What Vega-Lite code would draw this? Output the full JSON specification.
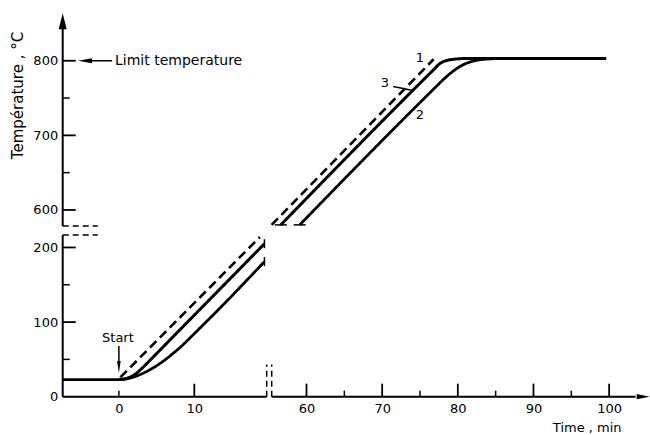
{
  "$schema": "https://vega.github.io/schema/vega-lite/v6.json",
  "width": 587.3,
  "height": 383.7,
  "autosize": {"type": "none"},
  "padding": {"left": 62.7, "top": 13, "right": 0, "bottom": 38.3},
  "background": "white",
  "config": {"view": {"stroke": null}, "font": "DejaVu Sans"},
  "datasets": {
    "axes": [
      {"t": -7.45, "T": 0, "t2": -7.45, "T2": 216.7},
      {"t": -7.45, "T": 578.5, "t2": -7.45, "T2": 856},
      {"t": -7.45, "T": 0, "t2": 19.6, "T2": 0},
      {"t": 55.4, "T": 0, "t2": 103.5, "T2": 0}
    ],
    "breaks": [
      {"t": 19.6, "T": 0, "t2": 19.6, "T2": 43},
      {"t": 55.4, "T": 0, "t2": 55.4, "T2": 43},
      {"t": -7.45, "T": 216.7, "t2": -2.8, "T2": 216.7},
      {"t": -7.45, "T": 578.5, "t2": -2.8, "T2": 578.5}
    ],
    "leaders": [
      {"t": 71.46, "T": 765.5, "t2": 74.1, "T2": 760.1},
      {"t": 0, "T": 68, "t2": 0, "T2": 46},
      {"t": -3.56, "T": 800, "t2": -0.9, "T2": 800}
    ],
    "arrows": [
      {"name": "yaxis", "t": -7.45, "T": 853},
      {"name": "xaxis", "t": 104.5, "T": 0},
      {"name": "start", "t": 0, "T": 39.8},
      {"name": "limit", "t": -4.49, "T": 800}
    ],
    "xticks": [
      {"t": 10, "T": 0, "kind": "major"},
      {"t": 60, "T": 0, "kind": "major"},
      {"t": 70, "T": 0, "kind": "major"},
      {"t": 80, "T": 0, "kind": "major"},
      {"t": 90, "T": 0, "kind": "major"},
      {"t": 100, "T": 0, "kind": "major"},
      {"t": 0, "T": 0, "kind": "minor"},
      {"t": 65, "T": 0, "kind": "minor"},
      {"t": 75, "T": 0, "kind": "minor"},
      {"t": 85, "T": 0, "kind": "minor"},
      {"t": 95, "T": 0, "kind": "minor"}
    ],
    "yticks": [
      {"t": -7.45, "T": 100, "kind": "major"},
      {"t": -7.45, "T": 200, "kind": "major"},
      {"t": -7.45, "T": 600, "kind": "major"},
      {"t": -7.45, "T": 700, "kind": "major"},
      {"t": -7.45, "T": 800, "kind": "major"},
      {"t": -7.45, "T": 50, "kind": "minor"},
      {"t": -7.45, "T": 150, "kind": "minor"},
      {"t": -7.45, "T": 650, "kind": "minor"},
      {"t": -7.45, "T": 750, "kind": "minor"}
    ],
    "ends": [
      {"t": 19.3, "T": 205, "o": "v"},
      {"t": 19.3, "T": 181, "o": "v"},
      {"t": 56.6, "T": 580, "o": "h"},
      {"t": 59.1, "T": 580, "o": "h"}
    ],
    "texts": [
      {"t": -0.13, "T": 78.7, "label": "Start", "align": "center"},
      {"t": 75.0, "T": 803.6, "label": "1", "align": "center"},
      {"t": 75.0, "T": 727.5, "label": "2", "align": "center"},
      {"t": 70.36, "T": 770, "label": "3", "align": "center"},
      {"t": -0.51, "T": 800, "label": "Limit temperature", "align": "left"}
    ],
    "curves": [
      {"curve": "1", "seg": "1a", "t": 0.2, "T": 26},
      {"curve": "1", "seg": "1a", "t": 18.7, "T": 214},
      {"curve": "1", "seg": "1b", "t": 54.9, "T": 580},
      {"curve": "1", "seg": "1b", "t": 76.8, "T": 802},
      {"curve": "3", "seg": "3a", "t": 0, "T": 23},
      {"curve": "3", "seg": "3a", "t": 1, "T": 24.5},
      {"curve": "3", "seg": "3a", "t": 2, "T": 29},
      {"curve": "3", "seg": "3a", "t": 3, "T": 37.5},
      {"curve": "3", "seg": "3a", "t": 4, "T": 47.5},
      {"curve": "3", "seg": "3a", "t": 5, "T": 57.8},
      {"curve": "3", "seg": "3a", "t": 19.3, "T": 205},
      {"curve": "3", "seg": "3b", "t": 56.6, "T": 580},
      {"curve": "3", "seg": "3b", "t": 76.9, "T": 789},
      {"curve": "3", "seg": "3b", "t": 77.6, "T": 796},
      {"curve": "3", "seg": "3b", "t": 78.4, "T": 800},
      {"curve": "3", "seg": "3b", "t": 79.5, "T": 802},
      {"curve": "3", "seg": "3b", "t": 81, "T": 803},
      {"curve": "3", "seg": "3b", "t": 99.6, "T": 803},
      {"curve": "2", "seg": "2a", "t": -7.45, "T": 23},
      {"curve": "2", "seg": "2a", "t": 0, "T": 23},
      {"curve": "2", "seg": "2a", "t": 1, "T": 23.8},
      {"curve": "2", "seg": "2a", "t": 2, "T": 26.5},
      {"curve": "2", "seg": "2a", "t": 3, "T": 30.5},
      {"curve": "2", "seg": "2a", "t": 4, "T": 35.5},
      {"curve": "2", "seg": "2a", "t": 5, "T": 41.5},
      {"curve": "2", "seg": "2a", "t": 6, "T": 48.5},
      {"curve": "2", "seg": "2a", "t": 7, "T": 56.5},
      {"curve": "2", "seg": "2a", "t": 8, "T": 65},
      {"curve": "2", "seg": "2a", "t": 9, "T": 74.5},
      {"curve": "2", "seg": "2a", "t": 10, "T": 84.5},
      {"curve": "2", "seg": "2a", "t": 11, "T": 94.5},
      {"curve": "2", "seg": "2a", "t": 12, "T": 104.5},
      {"curve": "2", "seg": "2a", "t": 19.3, "T": 181},
      {"curve": "2", "seg": "2b", "t": 59.1, "T": 580},
      {"curve": "2", "seg": "2b", "t": 76, "T": 754},
      {"curve": "2", "seg": "2b", "t": 77, "T": 764},
      {"curve": "2", "seg": "2b", "t": 78, "T": 774},
      {"curve": "2", "seg": "2b", "t": 79, "T": 783},
      {"curve": "2", "seg": "2b", "t": 80, "T": 790.5},
      {"curve": "2", "seg": "2b", "t": 81, "T": 796},
      {"curve": "2", "seg": "2b", "t": 82, "T": 799.5},
      {"curve": "2", "seg": "2b", "t": 83.5, "T": 802},
      {"curve": "2", "seg": "2b", "t": 86, "T": 803},
      {"curve": "2", "seg": "2b", "t": 99.6, "T": 803}
    ]
  },
  "encoding": {
    "x": {
      "field": "t", "type": "quantitative",
      "scale": {"domain": [-7.45, 19.6, 55.4, 105.4], "range": [0, 204, 209, 587.3], "nice": false, "zero": false},
      "axis": {
        "values": [0, 10, 60, 70, 80, 90, 100],
        "domain": false, "ticks": false, "grid": false,
        "labelPadding": 6, "labelFontSize": 13, "labelColor": "black", "labelFont": "DejaVu Sans",
        "labelFlush": false, "labelOverlap": false,
        "title": "Time , min", "titleX": 524, "titleY": 31, "titleAlign": "center", "titleBaseline": "middle",
        "titleFontSize": 13, "titleFontWeight": "normal", "titleColor": "black", "titleFont": "DejaVu Sans"
      }
    },
    "y": {
      "field": "T", "type": "quantitative",
      "scale": {"domain": [0, 216.7, 578.5, 864], "range": [383.7, 222, 213, 0], "nice": false, "zero": false},
      "axis": {
        "values": [0, 100, 200, 600, 700, 800],
        "domain": false, "ticks": false, "grid": false,
        "labelPadding": 5, "labelFontSize": 13, "labelColor": "black", "labelFont": "DejaVu Sans",
        "labelFlush": false, "labelOverlap": false,
        "title": "Température , °C", "titleX": -45.7, "titleY": 82, "titleAngle": -90,
        "titleAlign": "center", "titleBaseline": "middle",
        "titleFontSize": 15, "titleFontWeight": "normal", "titleColor": "black", "titleFont": "DejaVu Sans"
      }
    }
  },
  "layer": [
    {
      "data": {"name": "axes"},
      "mark": {"type": "rule", "color": "black", "strokeWidth": 2},
      "encoding": {"x2": {"field": "t2"}, "y2": {"field": "T2"}}
    },
    {
      "data": {"name": "breaks"},
      "mark": {"type": "rule", "color": "black", "strokeWidth": 1.5, "strokeDash": [6, 4]},
      "encoding": {"x2": {"field": "t2"}, "y2": {"field": "T2"}}
    },
    {
      "data": {"name": "leaders"},
      "mark": {"type": "rule", "color": "black", "strokeWidth": 1.5},
      "encoding": {"x2": {"field": "t2"}, "y2": {"field": "T2"}}
    },
    {
      "data": {"name": "arrows"},
      "transform": [{"filter": "datum.name === 'yaxis'"}],
      "mark": {"type": "point", "shape": "M0,-1L0.5,1L-0.5,1Z", "size": 256, "filled": true, "color": "black", "opacity": 1}
    },
    {
      "data": {"name": "arrows"},
      "transform": [{"filter": "datum.name === 'xaxis'"}],
      "mark": {"type": "point", "shape": "M1,0L-1,-0.4L-1,0.4Z", "size": 169, "filled": true, "color": "black", "opacity": 1}
    },
    {
      "data": {"name": "arrows"},
      "transform": [{"filter": "datum.name === 'start'"}],
      "mark": {"type": "point", "shape": "M0,1L0.3,-1L-0.3,-1Z", "size": 144, "filled": true, "color": "black", "opacity": 1}
    },
    {
      "data": {"name": "arrows"},
      "transform": [{"filter": "datum.name === 'limit'"}],
      "mark": {"type": "point", "shape": "M-1,0L1,-0.35L1,0.35Z", "size": 196, "filled": true, "color": "black", "opacity": 1}
    },
    {
      "data": {"name": "xticks"},
      "transform": [{"filter": "datum.kind === 'major'"}],
      "mark": {"type": "tick", "orient": "vertical", "size": 13, "thickness": 1.8, "yOffset": -6.5, "color": "black", "opacity": 1}
    },
    {
      "data": {"name": "xticks"},
      "transform": [{"filter": "datum.kind === 'minor'"}],
      "mark": {"type": "tick", "orient": "vertical", "size": 6, "thickness": 1.5, "yOffset": -3, "color": "black", "opacity": 1}
    },
    {
      "data": {"name": "yticks"},
      "transform": [{"filter": "datum.kind === 'major'"}],
      "mark": {"type": "tick", "orient": "horizontal", "size": 13, "thickness": 1.8, "xOffset": 6.5, "color": "black", "opacity": 1}
    },
    {
      "data": {"name": "yticks"},
      "transform": [{"filter": "datum.kind === 'minor'"}],
      "mark": {"type": "tick", "orient": "horizontal", "size": 7, "thickness": 1.5, "xOffset": 3.5, "color": "black", "opacity": 1}
    },
    {
      "data": {"name": "ends"},
      "transform": [{"filter": "datum.o === 'v'"}],
      "mark": {"type": "tick", "orient": "vertical", "size": 9, "thickness": 1.5, "color": "black", "opacity": 1}
    },
    {
      "data": {"name": "ends"},
      "transform": [{"filter": "datum.o === 'h'"}],
      "mark": {"type": "tick", "orient": "horizontal", "size": 12, "thickness": 1.5, "color": "black", "opacity": 1}
    },
    {
      "data": {"name": "curves"},
      "mark": {"type": "line", "color": "black", "interpolate": "monotone"},
      "encoding": {
        "detail": {"field": "seg", "type": "nominal"},
        "strokeDash": {"field": "curve", "type": "nominal", "scale": {"domain": ["1", "2", "3"], "range": [[9, 5], [1, 0], [1, 0]]}, "legend": null},
        "strokeWidth": {"field": "curve", "type": "ordinal", "scale": {"domain": ["1", "2", "3"], "range": [2.6, 3, 2.2]}, "legend": null}
      }
    },
    {
      "data": {"name": "texts"},
      "transform": [{"filter": "datum.align === 'center'"}],
      "mark": {"type": "text", "align": "center", "baseline": "middle", "fontSize": 13, "font": "DejaVu Sans", "color": "black"},
      "encoding": {"text": {"field": "label"}}
    },
    {
      "data": {"name": "texts"},
      "transform": [{"filter": "datum.align === 'left'"}],
      "mark": {"type": "text", "align": "left", "baseline": "middle", "fontSize": 14, "font": "DejaVu Sans", "color": "black"},
      "encoding": {"text": {"field": "label"}}
    }
  ]
}
